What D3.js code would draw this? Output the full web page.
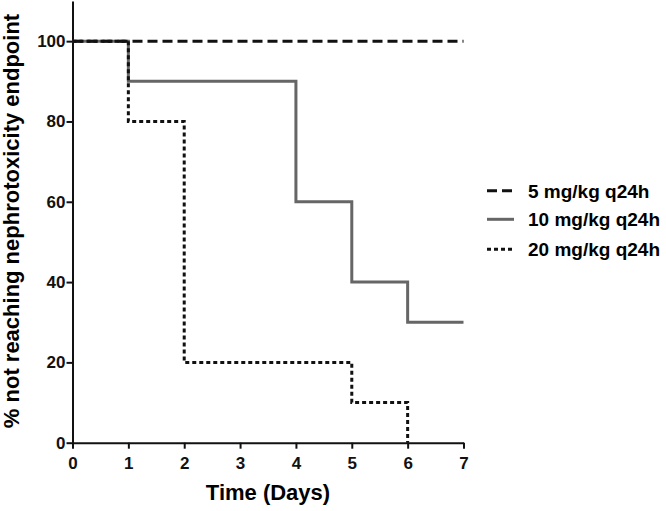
<!DOCTYPE html>
<html lang="en">
<head>
  <meta charset="UTF-8">
  <title>Nephrotoxicity endpoint</title>
  <script src="https://cdn.jsdelivr.net/npm/d3@7"></script>
<style>
  body { margin: 0; background: #fff; }
  svg { font-family: "Liberation Sans", Arial, sans-serif; font-weight: bold; }
  .axis path, .axis line { stroke: #111; stroke-width: 2; }
  .axis text { font-size: 17px; fill: #111; }
</style>
</head>
<body>
  <svg width="666" height="511"></svg>

  <script>
    // step data
    var days5  = [0, 7];
    var pct5   = [100, 100];
    var days10 = [0, 1, 4, 5, 6, 7];
    var pct10  = [100, 90, 60, 40, 30, 30];
    var days20 = [0, 1, 2, 5, 6];
    var pct20  = [100, 80, 20, 10, 0];

    var xTicks = [0, 1, 2, 3, 4, 5, 6, 7];
    var yTicks = [0, 20, 40, 60, 80, 100];
    var labels = ["5 mg/kg q24h", "10 mg/kg q24h", "20 mg/kg q24h"];

    var series = [
      {name: labels[1], t: days10, v: pct10, color: "#666", dash: null},
      {name: labels[2], t: days20, v: pct20, color: "#111", dash: "4,3"},
      {name: labels[0], t: days5,  v: pct5,  color: "#111", dash: "10,5"}
    ];

    var svg = d3.select("svg");

    var x = d3.scaleLinear().domain([0, 7]).range([72.5, 463.5]);
    var y = d3.scaleLinear().domain([0, 110]).range([442.7, 1]);

    svg.append("g")
      .attr("class", "axis")
      .attr("transform", "translate(0," + y(0) + ")")
      .call(d3.axisBottom(x).tickValues(xTicks).tickFormat(d3.format("d"))
        .tickSize(6).tickSizeOuter(0).tickPadding(8));

    svg.append("g")
      .attr("class", "axis")
      .attr("transform", "translate(" + x(0) + ",0)")
      .call(d3.axisLeft(y).tickValues(yTicks).tickSize(6).tickSizeOuter(0).tickPadding(1));

    var line = d3.line()
      .x(function(d) { return x(d[0]); })
      .y(function(d) { return y(d[1]); })
      .curve(d3.curveStepAfter);

    series.forEach(function(s) {
      svg.append("path")
        .datum(d3.zip(s.t, s.v))
        .attr("d", line)
        .attr("fill", "none")
        .attr("stroke", s.color)
        .attr("stroke-width", 3)
        .attr("stroke-dasharray", s.dash);
    });

    // axis titles
    svg.append("text")
      .attr("x", 268)
      .attr("y", 500)
      .attr("text-anchor", "middle")
      .style("font-size", "22px")
      .text("Time (Days)");

    svg.append("text")
      .attr("transform", "translate(19,221) rotate(-90)")
      .attr("text-anchor", "middle")
      .style("font-size", "22px")
      .text("% not reaching nephrotoxicity endpoint");

    // legend
    var legendY = [190.7, 219.3, 249.3];
    var legendStyle = [series[2], series[0], series[1]];
    legendStyle.forEach(function(s, i) {
      svg.append("line")
        .attr("x1", 487).attr("x2", 514)
        .attr("y1", legendY[i]).attr("y2", legendY[i])
        .attr("stroke", s.color)
        .attr("stroke-width", 3)
        .attr("stroke-dasharray", s.dash);
      svg.append("text")
        .attr("x", 528)
        .attr("y", legendY[i] + 7)
        .style("font-size", "19px")
        .text(s.name);
    });
  </script>
</body>
</html>
